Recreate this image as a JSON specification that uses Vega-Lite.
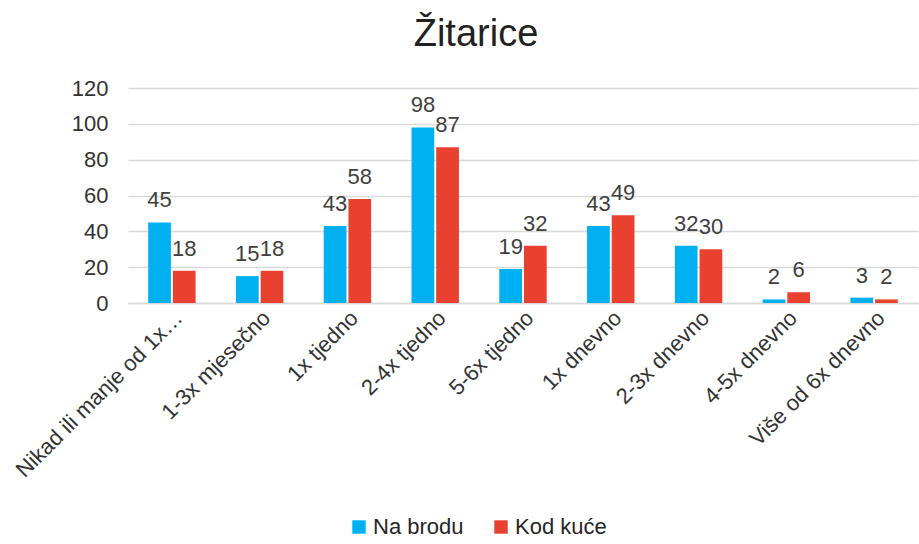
{
  "$schema": "https://vega.github.io/schema/vega-lite/v6.json",
  "width": 790,
  "height": 215,
  "autosize": {"type": "none"},
  "padding": {"left": 128, "top": 88, "right": 1, "bottom": 241},
  "background": "white",
  "config": {
    "font": "Liberation Sans",
    "view": {"stroke": null}
  },
  "title": {
    "text": "Žitarice",
    "fontSize": 38,
    "fontWeight": "normal",
    "color": "#222222",
    "anchor": "middle",
    "frame": "group",
    "dx": -47,
    "offset": 23
  },
  "data": {
    "values": [
      {"kategorija": "Nikad ili manje od 1x…", "serija": "Na brodu", "vrijednost": 45},
      {"kategorija": "Nikad ili manje od 1x…", "serija": "Kod kuće", "vrijednost": 18},
      {"kategorija": "1-3x mjesečno", "serija": "Na brodu", "vrijednost": 15},
      {"kategorija": "1-3x mjesečno", "serija": "Kod kuće", "vrijednost": 18},
      {"kategorija": "1x tjedno", "serija": "Na brodu", "vrijednost": 43},
      {"kategorija": "1x tjedno", "serija": "Kod kuće", "vrijednost": 58},
      {"kategorija": "2-4x tjedno", "serija": "Na brodu", "vrijednost": 98},
      {"kategorija": "2-4x tjedno", "serija": "Kod kuće", "vrijednost": 87},
      {"kategorija": "5-6x tjedno", "serija": "Na brodu", "vrijednost": 19},
      {"kategorija": "5-6x tjedno", "serija": "Kod kuće", "vrijednost": 32},
      {"kategorija": "1x dnevno", "serija": "Na brodu", "vrijednost": 43},
      {"kategorija": "1x dnevno", "serija": "Kod kuće", "vrijednost": 49},
      {"kategorija": "2-3x dnevno", "serija": "Na brodu", "vrijednost": 32},
      {"kategorija": "2-3x dnevno", "serija": "Kod kuće", "vrijednost": 30},
      {"kategorija": "4-5x dnevno", "serija": "Na brodu", "vrijednost": 2},
      {"kategorija": "4-5x dnevno", "serija": "Kod kuće", "vrijednost": 6},
      {"kategorija": "Više od 6x dnevno", "serija": "Na brodu", "vrijednost": 3},
      {"kategorija": "Više od 6x dnevno", "serija": "Kod kuće", "vrijednost": 2}
    ]
  },
  "encoding": {
    "x": {
      "field": "kategorija",
      "type": "nominal",
      "sort": null,
      "title": null,
      "scale": {"paddingInner": 0.46, "paddingOuter": 0.23},
      "axis": {
        "labelAngle": -45,
        "labelAlign": "right",
        "labelBaseline": "top",
        "labelFontSize": 22,
        "labelColor": "#333333",
        "labelPadding": 4,
        "labelLimit": 400,
        "ticks": false,
        "domainColor": "#d9d9d9",
        "domainWidth": 1.5
      }
    },
    "xOffset": {
      "field": "serija",
      "type": "nominal",
      "sort": ["Na brodu", "Kod kuće"],
      "scale": {"paddingInner": 0.08}
    },
    "y": {
      "field": "vrijednost",
      "type": "quantitative",
      "title": null,
      "scale": {"domain": [0, 120]},
      "axis": {
        "values": [0, 20, 40, 60, 80, 100, 120],
        "labelFontSize": 22,
        "labelColor": "#333333",
        "labelPadding": 20,
        "ticks": false,
        "domain": false,
        "grid": true,
        "gridColor": "#d9d9d9",
        "gridWidth": 1.5
      }
    }
  },
  "layer": [
    {
      "mark": {"type": "bar"},
      "encoding": {
        "color": {
          "field": "serija",
          "type": "nominal",
          "sort": ["Na brodu", "Kod kuće"],
          "scale": {"domain": ["Na brodu", "Kod kuće"], "range": ["#00b0f0", "#e8412f"]},
          "legend": {
            "title": null,
            "orient": "none",
            "direction": "horizontal",
            "legendX": 220,
            "legendY": 428,
            "symbolType": "square",
            "symbolSize": 180,
            "symbolStrokeWidth": 0,
            "labelFontSize": 22,
            "labelColor": "#262626",
            "labelOffset": 3,
            "columnPadding": 26
          }
        }
      }
    },
    {
      "mark": {"type": "text", "fontSize": 22, "color": "#404040", "baseline": "alphabetic", "dy": -15},
      "encoding": {
        "text": {"field": "vrijednost", "type": "quantitative"}
      }
    }
  ]
}
